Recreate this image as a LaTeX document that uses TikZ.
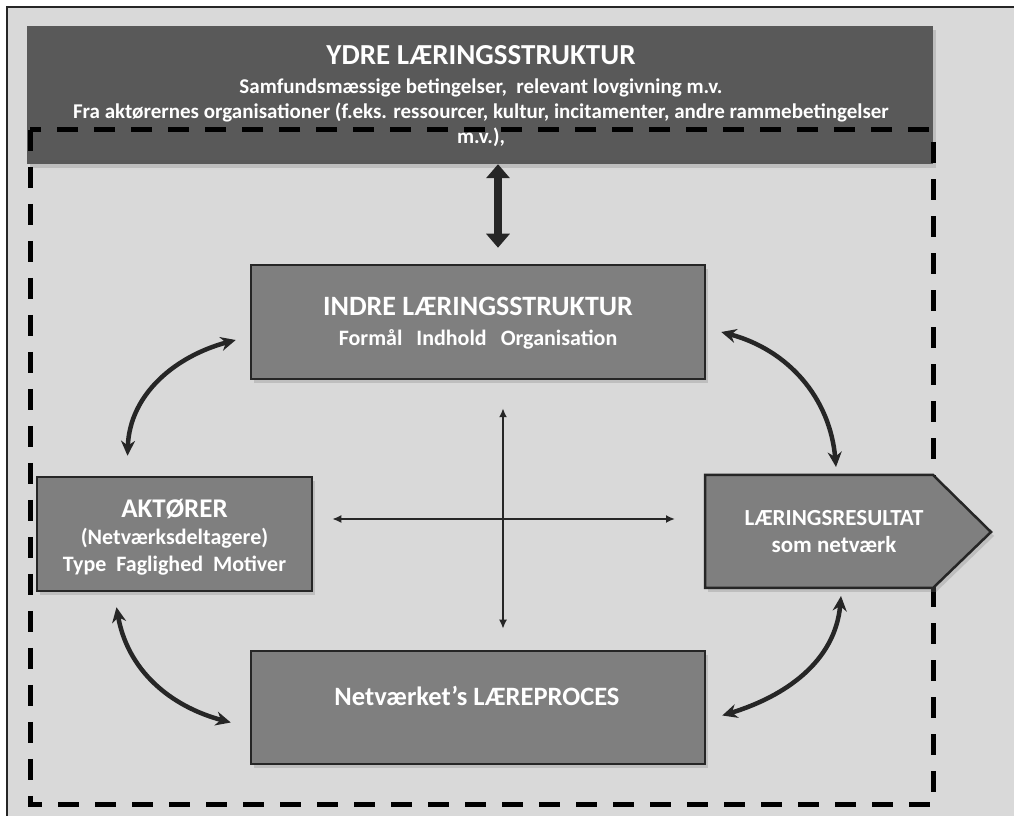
\documentclass[tikz,border=0pt]{standalone}
\usepackage{fontspec}
\setmainfont{Carlito}
\usetikzlibrary{positioning, arrows.meta, shadows}

\definecolor{bggray}{HTML}{D9D9D9}
\definecolor{bannergray}{HTML}{595959}
\definecolor{boxgray}{HTML}{7F7F7F}
\definecolor{linegray}{HTML}{262626}

\begin{document}
\begin{tikzpicture}[
    x=1pt, y=1pt,
    % Box style - mid gray with dark border
    box/.style={
        rectangle,
        draw=linegray,
        line width=2.5pt,
        fill=boxgray,
        text=white,
        font=\bfseries,
        align=center,
        drop shadow={shadow xshift=3pt, shadow yshift=-4pt, opacity=0.3}
    },
    % Banner style - dark gray, no border
    banner/.style={
        rectangle,
        fill=bannergray,
        text=white,
        font=\bfseries,
        align=center,
        drop shadow={shadow xshift=3pt, shadow yshift=-4pt, opacity=0.3}
    },
    % Curved arrow style - thick, both ends
    curvearrow/.style={
        {Stealth[length=15pt, width=14pt]}-{Stealth[length=15pt, width=14pt]},
        line width=4.5pt,
        draw=linegray
    },
    % Cross arrow style - thin
    crossarrow/.style={
        {Latex[length=9pt, width=8pt]}-{Latex[length=9pt, width=8pt]},
        line width=2pt,
        draw=linegray
    },
    % Text sizes
    big/.style={font=\bfseries\fontsize{28}{33}\selectfont},
    sub/.style={font=\bfseries\fontsize{22}{27}\selectfont}
]

\useasboundingbox (0,0) rectangle (1014,816);
\fill[white] (0,0) rectangle (1014,816);

% === Background frame ===
\filldraw[fill=bggray, draw=linegray, line width=2pt] (7,-20) rectangle (1040,809);

% === Outer learning structure (top) ===
\node[banner, minimum width=906, minimum height=138] (ydre) at (480,721) {};
\node[text=white, font=\bfseries\fontsize{29}{33}\selectfont] (ydretitle) at (481,761) {YDRE LÆRINGSSTRUKTUR};
\node[text=white, font=\bfseries\fontsize{21}{25}\selectfont, align=center] (ydretext) at (481,703)
    {Samfundsmæssige betingelser,~ relevant lovgivning m.v.\\
     Fra aktørernes organisationer (f.eks. ressourcer, kultur, incitamenter, andre rammebetingelser\\
     m.v.),};

% Dashed frame
\draw[line width=5pt, dash pattern=on 21pt off 16pt] (30,686) rectangle (933,11);

% === Inner learning structure ===
\node[box, minimum width=454, minimum height=114] (indre) at (478,494) {};
\node[text=white, big] (indretitle) at (478,510) {INDRE LÆRINGSSTRUKTUR};
\node[text=white, font=\bfseries\fontsize{22}{26}\selectfont] (indretext) at (478,477)
    {Formål\hspace{14pt}Indhold\hspace{14pt}Organisation};

% === Actors ===
\node[box, minimum width=275, minimum height=114] (aktorer) at (174.5,282) {};
\node[text=white, font=\bfseries\fontsize{27}{30}\selectfont] (aktorertitle) at (174.5,307) {AKTØRER};
\node[text=white, sub, align=center] (aktorertext) at (174.5,264)
    {(Netværksdeltagere)\\Type~ Faglighed~ Motiver};

% === Learning result (arrow shape) ===
\coordinate (resnw) at (705,341);
\coordinate (resne) at (933,341);
\coordinate (restip) at (991,284);
\coordinate (resse) at (933,228);
\coordinate (ressw) at (705,228);
\filldraw[box, line join=miter] (resnw) -- (resne) -- (restip) -- (resse) -- (ressw) -- cycle;
\node[text=white, font=\bfseries\fontsize{23}{27}\selectfont, align=center] (result) at (834,284)
    {LÆRINGSRESULTAT\\som netværk};

% === Learning process ===
\node[box, minimum width=454, minimum height=113] (proces) at (478,108.5) {};
\node[text=white, font=\bfseries\fontsize{26.5}{30}\selectfont] (procestext) at (477,120)
    {Netværket’s LÆREPROCES};

% === Arrow between outer and inner structure ===
\draw[line width=8pt, draw=linegray,
      {Triangle[length=14pt, width=23pt]}-{Triangle[length=14pt, width=23pt]}]
    ([xshift=18pt]ydre.south) -- ([xshift=18pt, yshift=16pt]ydre.south |- indre.north);

% === Cross in the middle ===
\draw[crossarrow] ([xshift=19pt, yshift=15pt]aktorer.east) -- ([xshift=-30pt, yshift=15pt]aktorer.east -| ressw);
\draw[crossarrow] ([xshift=25pt, yshift=-28pt]indre.south) -- ([xshift=25pt, yshift=21pt]indre.south |- proces.north);

% === Curved arrows round the cross ===
\draw[curvearrow] ([xshift=-47pt, yshift=20pt]aktorer.north) to[out=88, in=195] ([xshift=-14pt, yshift=-18pt]indre.west);
\draw[curvearrow] ([xshift=15pt, yshift=-10pt]indre.east) to[out=-15, in=95] ([xshift=131pt, yshift=8pt]resnw);
\draw[curvearrow] ([xshift=-58pt, yshift=-15pt]aktorer.south) to[out=-80, in=165] ([xshift=-19pt, yshift=-15pt]proces.west);
\draw[curvearrow] ([xshift=136pt, yshift=-8pt]ressw) to[out=-95, in=17] ([xshift=16pt, yshift=-8pt]proces.east);

\end{tikzpicture}
\end{document}
